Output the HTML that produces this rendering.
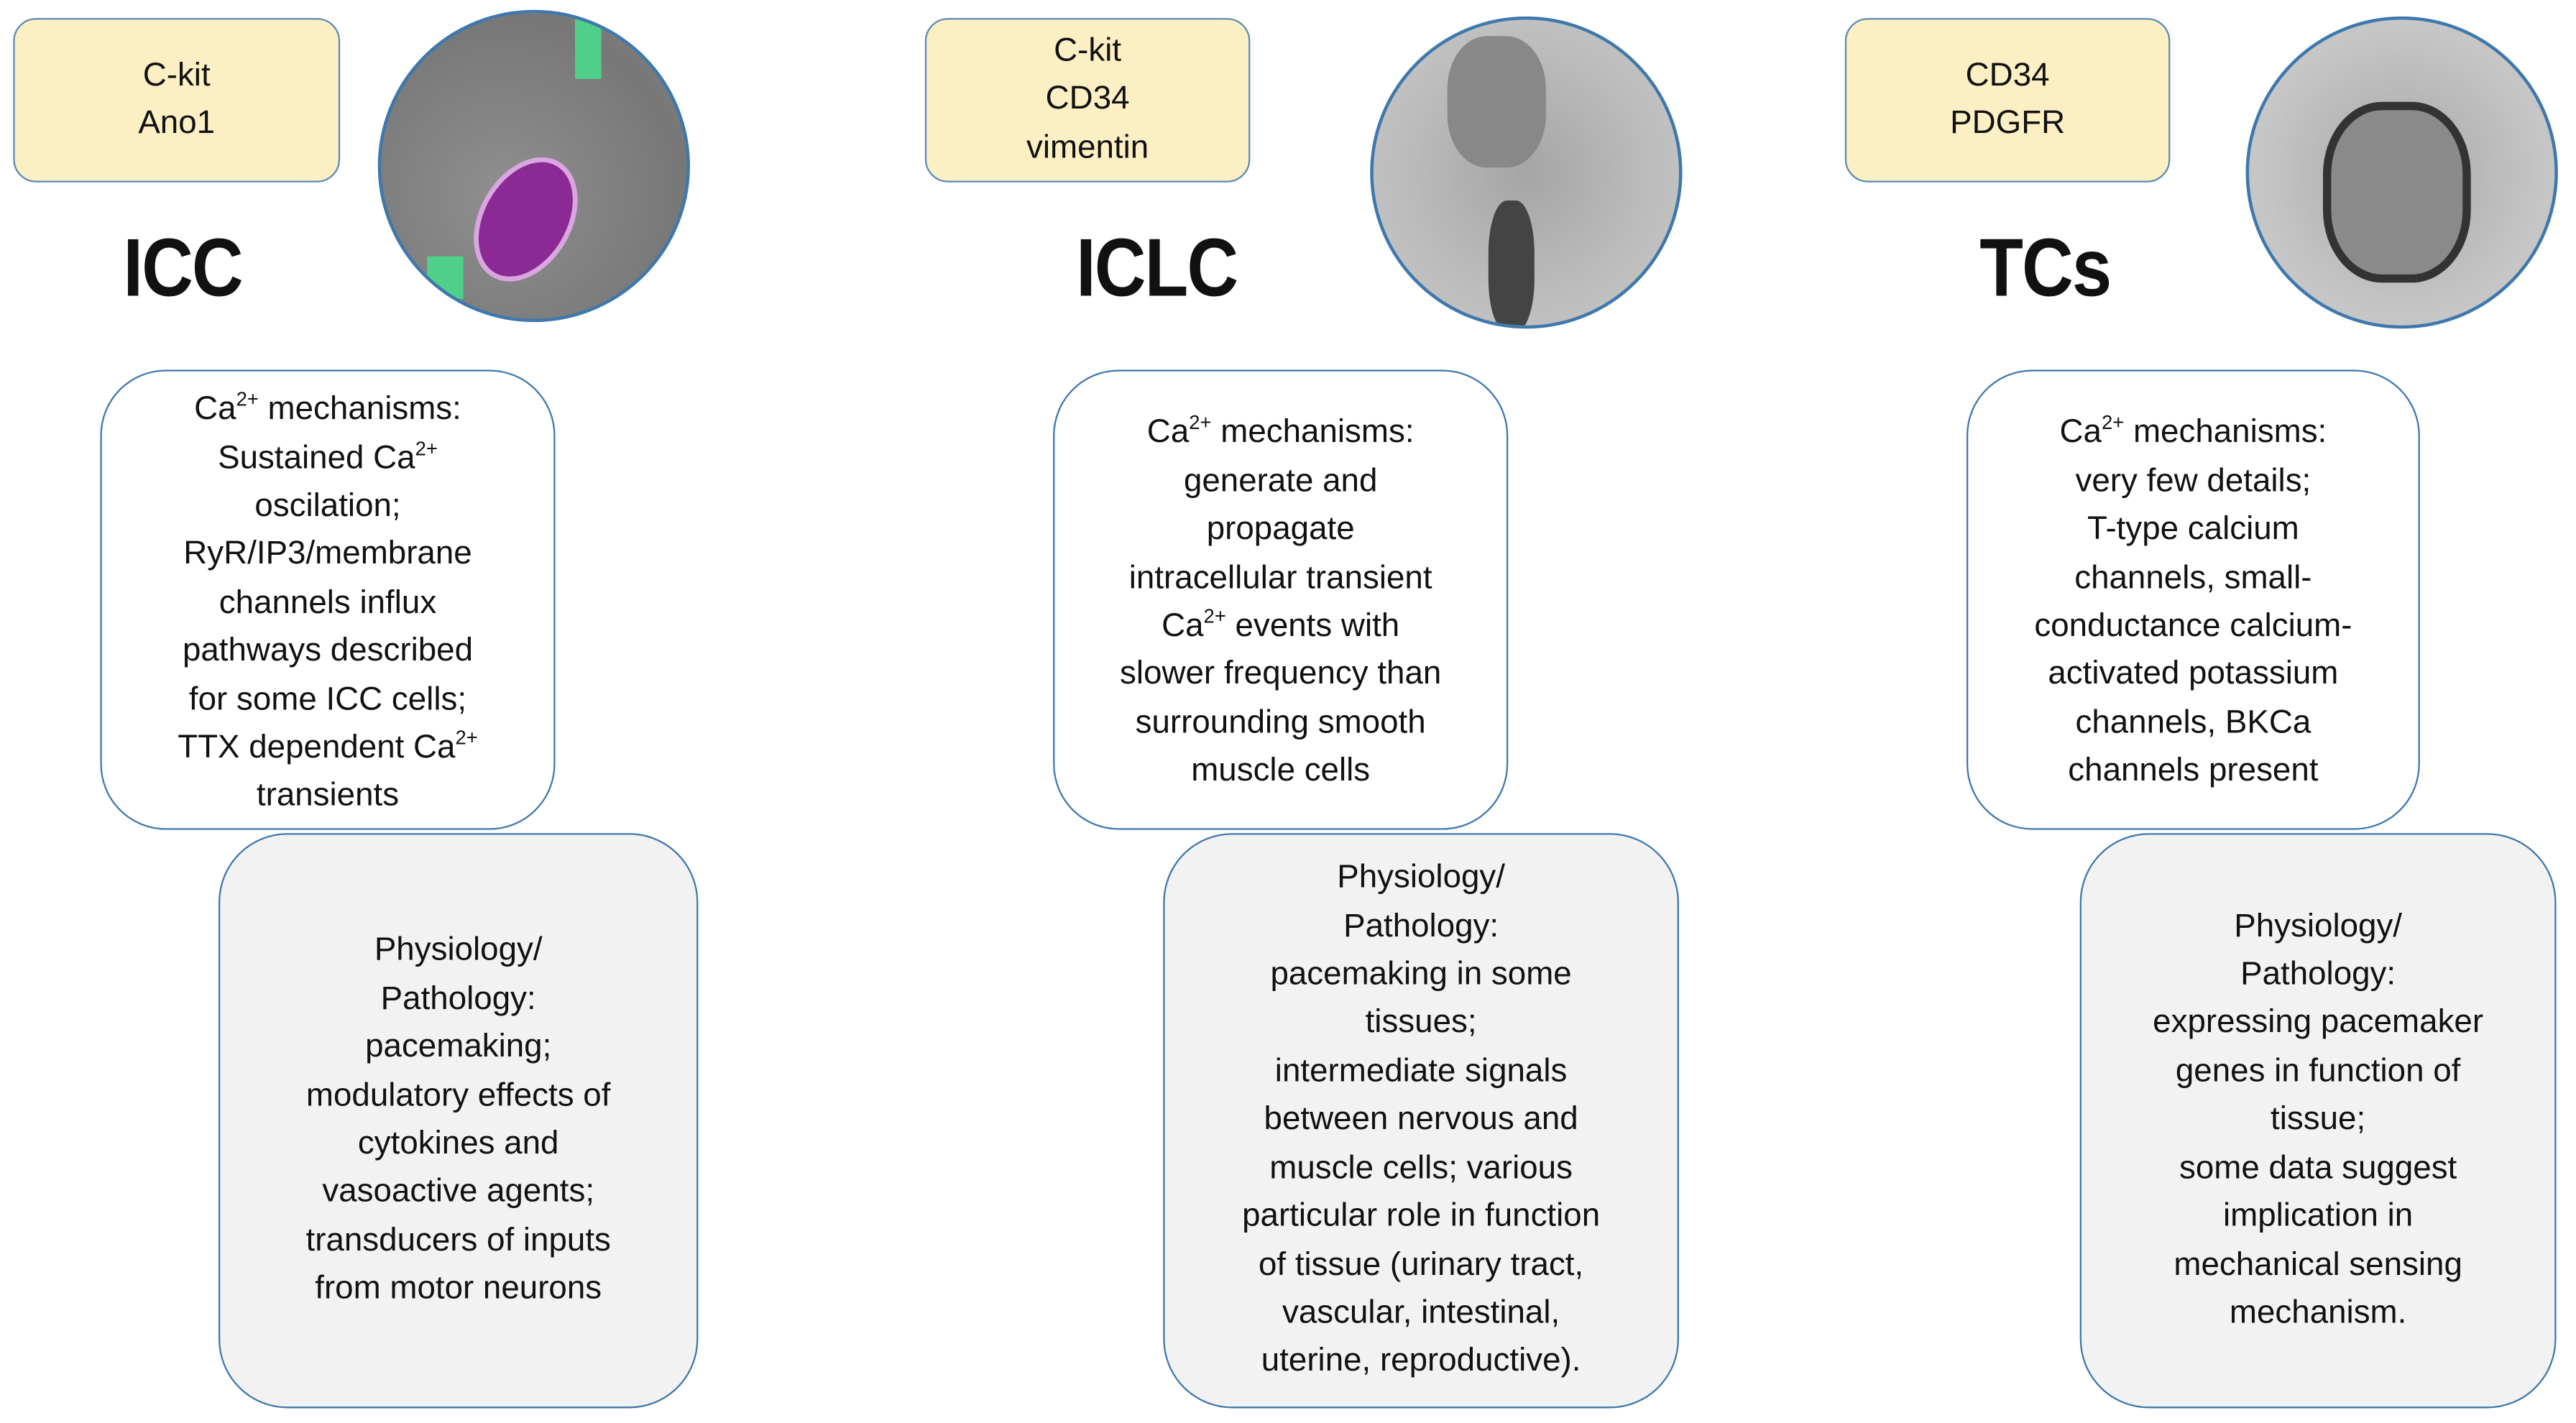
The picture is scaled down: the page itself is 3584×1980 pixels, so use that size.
<!DOCTYPE html>
<html><head><meta charset="utf-8"><style>
html,body{margin:0;padding:0;background:#fff;}
body{width:3584px;height:1980px;overflow:hidden;position:relative;}
#s{position:absolute;left:0;top:0;width:1568px;height:866px;transform:scale(2.2857,2.2864);transform-origin:0 0;font-family:"Liberation Sans","DejaVu Sans",sans-serif;color:#111;}
.b{position:absolute;box-sizing:border-box;display:flex;align-items:center;justify-content:center;text-align:center;font-size:20px;line-height:29.4px;}
.y{background:#fdefc4;border:1.5px solid #5a8ab5;border-radius:14px;}
.w{background:#fff;border:1.5px solid #3f78ad;border-radius:40px;}
.g{background:#f2f2f2;border:1.5px solid #3f78ad;border-radius:42px;}
.t{position:absolute;font-weight:bold;font-size:50px;line-height:50px;letter-spacing:-1px;transform:scaleX(0.87);transform-origin:0 0;}
.c{position:absolute;border-radius:50%;border:2px solid #3f78ad;box-sizing:border-box;overflow:hidden;}
sup{font-size:12px;line-height:0;vertical-align:8px;}
</style></head><body><div id="s">
<div class="b y" style="left:8px;top:11px;width:199px;height:100px;">C-kit<br>Ano1</div>
<div class="b y" style="left:563px;top:11px;width:198px;height:100px;">C-kit<br>CD34<br>vimentin</div>
<div class="b y" style="left:1123px;top:11px;width:198px;height:100px;">CD34<br>PDGFR</div>

<div class="t" style="left:75px;top:138px;">ICC</div>
<div class="t" style="left:655px;top:138px;">ICLC</div>
<div class="t" style="left:1205px;top:138px;">TCs</div>

<div class="c" style="left:230px;top:6px;width:190px;height:190px;background:radial-gradient(ellipse at 40% 60%,#8f8f8f,#777 70%,#8c8c8c);">
 <div style="position:absolute;left:60px;top:85px;width:50px;height:75px;border-radius:50%;background:#8b2a94;transform:rotate(30deg);border:3px solid #d9a6e0;"></div>
 <div style="position:absolute;left:118px;top:0;width:16px;height:40px;background:#4fd08a;"></div>
 <div style="position:absolute;left:28px;top:148px;width:22px;height:26px;background:#4fd08a;"></div>
</div>
<div class="c" style="left:834px;top:10px;width:190px;height:190px;background:radial-gradient(ellipse at 50% 50%,#a5a5a5,#bdbdbd 60%,#c8c8c8);">
 <div style="position:absolute;left:70px;top:110px;width:28px;height:80px;border-radius:40%;background:#444;"></div>
 <div style="position:absolute;left:45px;top:10px;width:60px;height:80px;border-radius:40%;background:#888;"></div>
</div>
<div class="c" style="left:1367px;top:10px;width:190px;height:190px;background:radial-gradient(ellipse at 50% 50%,#a8a8a8,#c5c5c5 65%,#d0d0d0);">
 <div style="position:absolute;left:45px;top:50px;width:80px;height:100px;border-radius:40%;border:5px solid #333;background:#8a8a8a;"></div>
</div>

<div class="b w" style="left:61px;top:225px;width:277px;height:280px;padding-top:5px;"><div>Ca<sup>2+</sup> mechanisms:<br>Sustained Ca<sup>2+</sup><br>oscilation;<br>RyR/IP3/membrane<br>channels influx<br>pathways described<br>for some ICC cells;<br>TTX dependent Ca<sup>2+</sup><br>transients</div></div>
<div class="b w" style="left:641px;top:225px;width:277px;height:280px;padding-top:4px;"><div>Ca<sup>2+</sup> mechanisms:<br>generate and<br>propagate<br>intracellular transient<br>Ca<sup>2+</sup> events with<br>slower frequency than<br>surrounding smooth<br>muscle cells</div></div>
<div class="b w" style="left:1197px;top:225px;width:276px;height:280px;padding-top:4px;"><div>Ca<sup>2+</sup> mechanisms:<br>very few details;<br>T-type calcium<br>channels, small-<br>conductance calcium-<br>activated potassium<br>channels, BKCa<br>channels present</div></div>

<div class="b g" style="left:133px;top:507px;width:292px;height:350px;"><div>Physiology/<br>Pathology:<br>pacemaking;<br>modulatory effects of<br>cytokines and<br>vasoactive agents;<br>transducers of inputs<br>from motor neurons</div></div>
<div class="b g" style="left:708px;top:507px;width:314px;height:350px;"><div>Physiology/<br>Pathology:<br>pacemaking in some<br>tissues;<br>intermediate signals<br>between nervous and<br>muscle cells; various<br>particular role in function<br>of tissue (urinary tract,<br>vascular, intestinal,<br>uterine, reproductive).</div></div>
<div class="b g" style="left:1266px;top:507px;width:290px;height:350px;"><div>Physiology/<br>Pathology:<br>expressing pacemaker<br>genes in function of<br>tissue;<br>some data suggest<br>implication in<br>mechanical sensing<br>mechanism.</div></div>
</div></body></html>
